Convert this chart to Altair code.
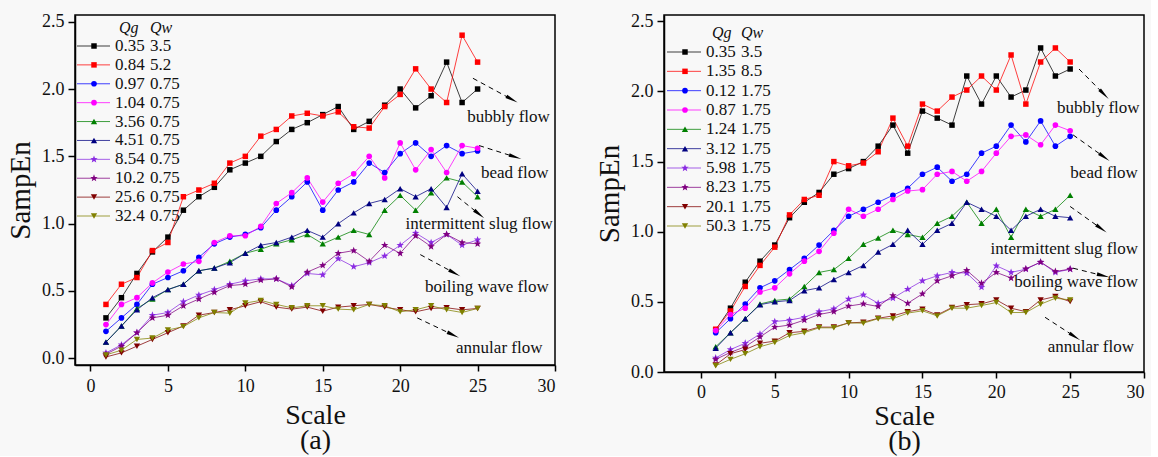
import math
import altair as alt
import pandas as pd

# ---------------- data ----------------
scales = list(range(1, 26))

# Panel (a): labels Qg / Qw
a_qg = ["0.35", "0.84", "0.97", "1.04", "3.56", "4.51", "8.54", "10.2", "25.6", "32.4"]
a_qw = ["3.5", "5.2", "0.75", "0.75", "0.75", "0.75", "0.75", "0.75", "0.75", "0.75"]
a_s0 = [0.30, 0.45, 0.63, 0.79, 0.90, 1.10, 1.20, 1.27, 1.40, 1.45, 1.50, 1.61, 1.70, 1.75, 1.81, 1.87, 1.70, 1.76, 1.88, 2.00, 1.86, 1.95, 2.20, 1.90, 2.00]
a_s1 = [0.40, 0.55, 0.60, 0.80, 0.86, 1.20, 1.25, 1.30, 1.45, 1.50, 1.65, 1.70, 1.80, 1.82, 1.80, 1.83, 1.72, 1.71, 1.87, 1.96, 2.15, 2.00, 1.90, 2.40, 2.20]
a_s2 = [0.20, 0.30, 0.40, 0.55, 0.60, 0.65, 0.75, 0.85, 0.90, 0.92, 0.97, 1.10, 1.20, 1.31, 1.10, 1.25, 1.31, 1.45, 1.38, 1.52, 1.60, 1.50, 1.58, 1.52, 1.54]
a_s3 = [0.25, 0.40, 0.45, 0.56, 0.64, 0.70, 0.72, 0.86, 0.91, 0.91, 0.98, 1.15, 1.23, 1.34, 1.16, 1.30, 1.37, 1.50, 1.34, 1.60, 1.40, 1.55, 1.38, 1.58, 1.56]
a_s4 = [0.12, 0.24, 0.37, 0.44, 0.51, 0.55, 0.65, 0.67, 0.72, 0.78, 0.81, 0.85, 0.88, 0.92, 0.85, 0.90, 0.95, 0.92, 1.10, 1.21, 1.10, 1.23, 1.34, 1.31, 1.20]
a_s5 = [0.12, 0.24, 0.36, 0.45, 0.51, 0.55, 0.65, 0.67, 0.71, 0.78, 0.84, 0.86, 0.90, 0.95, 0.90, 1.00, 1.08, 1.15, 1.18, 1.26, 1.20, 1.26, 1.12, 1.37, 1.24]
a_s6 = [0.04, 0.10, 0.19, 0.32, 0.34, 0.42, 0.47, 0.51, 0.55, 0.575, 0.59, 0.59, 0.54, 0.63, 0.62, 0.74, 0.68, 0.71, 0.76, 0.84, 0.93, 0.86, 0.92, 0.84, 0.88]
a_s7 = [0.03, 0.09, 0.19, 0.30, 0.32, 0.39, 0.44, 0.49, 0.54, 0.55, 0.58, 0.59, 0.53, 0.64, 0.69, 0.78, 0.80, 0.72, 0.84, 0.78, 0.91, 0.83, 0.92, 0.86, 0.85]
a_s8 = [0.01, 0.04, 0.09, 0.14, 0.19, 0.24, 0.32, 0.34, 0.36, 0.39, 0.42, 0.38, 0.365, 0.38, 0.35, 0.38, 0.39, 0.40, 0.38, 0.36, 0.345, 0.37, 0.375, 0.36, 0.37]
a_s9 = [0.025, 0.06, 0.14, 0.15, 0.21, 0.235, 0.30, 0.34, 0.335, 0.41, 0.43, 0.40, 0.375, 0.39, 0.39, 0.365, 0.36, 0.40, 0.39, 0.345, 0.36, 0.39, 0.36, 0.34, 0.37]

# Panel (b)
b_qg = ["0.35", "1.35", "0.12", "0.87", "1.24", "3.12", "5.98", "8.23", "20.1", "50.3"]
b_qw = ["3.5", "8.5", "1.75", "1.75", "1.75", "1.75", "1.75", "1.75", "1.75", "1.75"]
b_s0 = [0.30, 0.455, 0.64, 0.79, 0.905, 1.10, 1.21, 1.28, 1.41, 1.45, 1.50, 1.61, 1.76, 1.56, 1.86, 1.81, 1.76, 2.11, 1.91, 2.11, 1.96, 2.01, 2.31, 2.11, 2.16]
b_s1 = [0.305, 0.435, 0.61, 0.76, 0.89, 1.12, 1.23, 1.26, 1.50, 1.47, 1.49, 1.57, 1.81, 1.61, 1.91, 1.86, 1.96, 2.01, 2.11, 2.01, 2.26, 1.91, 2.21, 2.31, 2.21]
b_s2 = [0.28, 0.38, 0.485, 0.60, 0.65, 0.73, 0.81, 0.905, 1.01, 1.11, 1.16, 1.21, 1.26, 1.31, 1.41, 1.46, 1.36, 1.41, 1.56, 1.61, 1.76, 1.64, 1.79, 1.61, 1.68]
b_s3 = [0.295, 0.41, 0.455, 0.57, 0.60, 0.70, 0.79, 0.86, 0.99, 1.16, 1.11, 1.16, 1.23, 1.29, 1.30, 1.41, 1.43, 1.36, 1.43, 1.56, 1.68, 1.69, 1.62, 1.76, 1.72]
b_s4 = [0.18, 0.28, 0.38, 0.485, 0.51, 0.52, 0.61, 0.71, 0.73, 0.81, 0.91, 0.955, 1.01, 0.98, 0.96, 1.06, 1.11, 1.21, 1.06, 1.16, 0.96, 1.16, 1.11, 1.16, 1.26]
b_s5 = [0.17, 0.28, 0.38, 0.48, 0.50, 0.51, 0.58, 0.60, 0.66, 0.71, 0.76, 0.855, 0.91, 1.01, 0.91, 1.01, 1.06, 1.21, 1.16, 1.11, 1.01, 1.11, 1.16, 1.11, 1.10]
b_s6 = [0.10, 0.16, 0.205, 0.27, 0.36, 0.37, 0.39, 0.43, 0.45, 0.52, 0.55, 0.49, 0.526, 0.59, 0.65, 0.686, 0.71, 0.705, 0.605, 0.757, 0.71, 0.733, 0.783, 0.71, 0.733]
b_s7 = [0.09, 0.14, 0.18, 0.25, 0.32, 0.335, 0.37, 0.41, 0.43, 0.47, 0.486, 0.467, 0.545, 0.49, 0.557, 0.65, 0.686, 0.724, 0.633, 0.71, 0.67, 0.736, 0.783, 0.717, 0.733]
b_s8 = [0.05, 0.13, 0.16, 0.205, 0.22, 0.28, 0.29, 0.32, 0.32, 0.35, 0.355, 0.383, 0.40, 0.43, 0.448, 0.407, 0.46, 0.48, 0.486, 0.514, 0.455, 0.43, 0.514, 0.538, 0.502]
b_s9 = [0.045, 0.09, 0.13, 0.18, 0.21, 0.26, 0.28, 0.315, 0.315, 0.35, 0.348, 0.38, 0.38, 0.42, 0.436, 0.40, 0.455, 0.455, 0.474, 0.495, 0.424, 0.424, 0.483, 0.526, 0.514]

# annotations: flow regime labels and dashed arrows (data coordinates)
flow_labels = ["bubbly flow", "bead flow", "intermittent slug flow", "boiling wave flow", "annular flow"]
a_text_x = [27.0, 27.4, 25.1, 25.6, 26.4]
a_text_y = [1.79, 1.38, 1.00, 0.53, 0.08]
a_arr_x1 = [24.7, 25.1, 23.7, 21.3, 21.1]
a_arr_y1 = [2.08, 1.58, 1.20, 0.77, 0.30]
a_arr_x2 = [27.1, 27.3, 25.0, 23.4, 23.3]
a_arr_y2 = [1.93, 1.50, 1.08, 0.64, 0.18]

b_text_x = [26.9, 27.3, 24.6, 25.4, 26.4]
b_text_y = [1.88, 1.42, 0.88, 0.64, 0.18]
b_arr_x1 = [25.6, 25.2, 25.0, 25.2, 23.3]
b_arr_y1 = [2.16, 1.69, 1.18, 0.74, 0.39]
b_arr_x2 = [27.2, 27.2, 27.0, 27.1, 25.2]
b_arr_y2 = [1.99, 1.54, 1.03, 0.69, 0.26]

# ---------------- styles ----------------
SERIF = "Liberation Serif"
colors = ["#000000", "#ff0000", "#0000ff", "#ff00ff", "#008000",
          "#000080", "#8a2be2", "#800080", "#800000", "#808000"]

def star_path():
    pts = []
    for k in range(10):
        r = 1.0 if k % 2 == 0 else 0.42
        ang = math.radians(-90 + 36 * k)
        pts.append(f"{r*math.cos(ang):.3f},{r*math.sin(ang):.3f}")
    return "M" + "L".join(pts) + "Z"

STAR = star_path()
shapes = ["square", "square", "circle", "circle", "triangle-up", "triangle-up",
          STAR, STAR, "triangle-down", "triangle-down"]
sizes = [30, 30, 32, 32, 40, 40, 60, 60, 40, 40]

keys_a = [f"a{i}" for i in range(10)]
keys_b = [f"b{i}" for i in range(10)]
all_keys = keys_a + keys_b

color_enc = alt.Color("key:N", scale=alt.Scale(domain=all_keys, range=colors * 2), legend=None)
shape_enc = alt.Shape("key:N", scale=alt.Scale(domain=all_keys, range=shapes * 2), legend=None)
size_enc = alt.Size("sz:Q", scale=None, legend=None)

W = 480


def build_panel(tag, series, qg, qw, xdom, ydom, H, tx, ty, ax1, ay1, ax2, ay2, leg, lpad, tpad):
    keys = [f"{tag}{i}" for i in range(10)]
    rows = []
    for i, vals in enumerate(series):
        for s, v in zip(scales, vals):
            rows.append({"key": keys[i], "scale": s, "v": v, "sz": sizes[i]})
    df = pd.DataFrame(rows)

    kx = W / (xdom[1] - xdom[0])
    ky = H / (ydom[1] - ydom[0])
    angs = []
    for x1, y1, x2, y2 in zip(ax1, ay1, ax2, ay2):
        dx = (x2 - x1) * kx
        dy = -(y2 - y1) * ky
        angs.append(math.degrees(math.atan2(dx, -dy)) % 360)
    arr = pd.DataFrame({"x1": ax1, "y1": ay1, "x2": ax2, "y2": ay2, "ang": angs})
    txt = pd.DataFrame({"x": tx, "y": ty, "label": flow_labels})

    xvals = [i * 2.5 for i in range(13)]
    yvals = [i * 0.25 for i in range(11)]
    x_axis = alt.Axis(
        values=xvals, format=".0f",
        labelExpr="datum.value % 5 == 0 ? datum.label : ''",
        tickSize={"condition": {"test": "datum.value % 5 == 0", "value": 6}, "value": 4},
        title=["Scale", f"({tag})"], titleFontSize=28, titleLineHeight=25,
        titlePadding=tpad, labelPadding=lpad,
    )
    y_axis = alt.Axis(
        values=yvals, format=".1f",
        labelExpr="datum.value % 0.5 == 0 ? datum.label : ''",
        tickSize={"condition": {"test": "datum.value % 0.5 == 0", "value": 7}, "value": 5},
        title="SampEn", titleFontSize=29, titlePadding=6, labelPadding=4,
    )
    X = alt.X("scale:Q", scale=alt.Scale(domain=xdom, nice=False, zero=False), axis=x_axis)
    Y = alt.Y("v:Q", scale=alt.Scale(domain=ydom, nice=False, zero=False), axis=y_axis)

    base = alt.Chart(df)
    lines = base.mark_line(strokeWidth=1, opacity=0.75).encode(x=X, y=Y, color=color_enc, detail="key:N")
    points = base.mark_point(filled=True, opacity=1).encode(
        x=X, y=Y, color=color_enc, shape=shape_enc, size=size_enc)

    ax = alt.X("x1:Q", scale=alt.Scale(domain=xdom, nice=False, zero=False))
    arrows = alt.Chart(arr).mark_rule(color="black", strokeWidth=1, strokeDash=[5, 4]).encode(
        x=ax, y=alt.Y("y1:Q"), x2="x2:Q", y2="y2:Q")
    heads = alt.Chart(arr).mark_point(shape="wedge", filled=True, color="black", opacity=1, size=220).encode(
        x="x2:Q", y="y2:Q", angle=alt.Angle("ang:Q", scale=None))
    texts = alt.Chart(txt).mark_text(font=SERIF, fontSize=17, color="#111111", align="center",
                                     baseline="middle").encode(x="x:Q", y="y:Q", text="label:N")

    main = alt.layer(lines, points, arrows, heads, texts)

    # in-plot legend (line + marker, Qg and Qw columns)
    ldf = pd.DataFrame({"key": keys, "row": list(range(10)), "qg": qg, "qw": qw, "sz": sizes})
    LY = alt.Y("row:Q", scale=alt.Scale(domain=[0, 9], range=[leg["y0"], leg["y1"]], nice=False, zero=False), axis=None)
    lb = alt.Chart(ldf)
    l_rule = lb.mark_rule(strokeWidth=1, opacity=0.75).encode(
        x=alt.value(leg["l0"]), x2=alt.value(leg["l1"]), y=LY, color=color_enc)
    l_pt = lb.mark_point(filled=True, opacity=1).encode(
        x=alt.value(leg["m"]), y=LY, color=color_enc, shape=shape_enc, size=size_enc)
    l_qg = lb.mark_text(font=SERIF, fontSize=17, align="left", baseline="middle", color="#111111").encode(
        x=alt.value(leg["tg"]), y=LY, text="qg:N")
    l_qw = lb.mark_text(font=SERIF, fontSize=17, align="left", baseline="middle", color="#111111").encode(
        x=alt.value(leg["tw"]), y=LY, text="qw:N")
    hdr = pd.DataFrame({"t": ["Qg"]})
    h_g = alt.Chart(hdr).mark_text(font=SERIF, fontSize=16, fontStyle="italic", align="left",
                                   baseline="middle", color="#111111").encode(
        x=alt.value(leg["hg"]), y=alt.value(leg["hy"]), text="t:N")
    hdr2 = pd.DataFrame({"t": ["Qw"]})
    h_w = alt.Chart(hdr2).mark_text(font=SERIF, fontSize=16, fontStyle="italic", align="left",
                                    baseline="middle", color="#111111").encode(
        x=alt.value(leg["hw"]), y=alt.value(leg["hy"]), text="t:N")
    legend = alt.layer(l_rule, l_pt, l_qg, l_qw, h_g, h_w)

    return alt.layer(main, legend).resolve_scale(y="independent").properties(width=W, height=H)


panel_a = build_panel(
    "a", [a_s0, a_s1, a_s2, a_s3, a_s4, a_s5, a_s6, a_s7, a_s8, a_s9], a_qg, a_qw,
    [-1, 30], [-0.05, 2.55], 350, a_text_x, a_text_y, a_arr_x1, a_arr_y1, a_arr_x2, a_arr_y2,
    {"y0": 31, "y1": 201, "l0": 2, "l1": 35, "m": 19, "tg": 40, "tw": 75, "hg": 44, "hw": 75, "hy": 13},
    6, 6,
)
panel_b = build_panel(
    "b", [b_s0, b_s1, b_s2, b_s3, b_s4, b_s5, b_s6, b_s7, b_s8, b_s9], b_qg, b_qw,
    [-2.5, 30], [0, 2.545], 357, b_text_x, b_text_y, b_arr_x1, b_arr_y1, b_arr_x2, b_arr_y2,
    {"y0": 37, "y1": 211, "l0": 3, "l1": 37, "m": 21, "tg": 42, "tw": 77, "hg": 48, "hw": 77, "hy": 18},
    5, 1,
)

chart = alt.hconcat(panel_a, panel_b, spacing=109, bounds="flush").properties(
    background="#f8f8f8",
    padding={"left": 5, "top": 11, "right": 5, "bottom": 0},
).configure_view(
    stroke="black", strokeWidth=1.5,
).configure_axis(
    grid=False, domainColor="black", domainWidth=1.5, tickColor="black", tickWidth=1.5,
    labelFont=SERIF, labelFontSize=18, labelColor="#111111",
    titleFont=SERIF, titleFontWeight="normal", titleColor="#111111",
)

chart.save("out.html", embed_options={"renderer": "svg", "actions": False})
